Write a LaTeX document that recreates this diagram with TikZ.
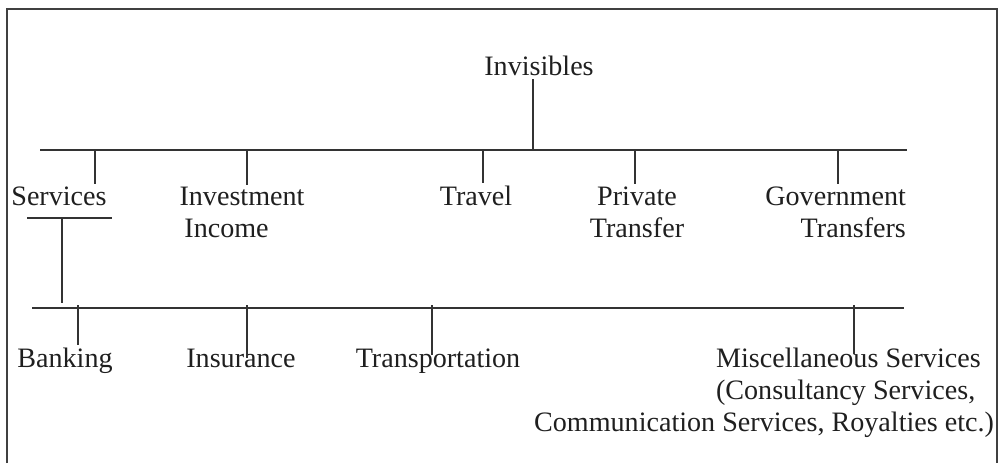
\documentclass[tikz,border=0pt]{standalone}
\usepackage{fontspec}
\setmainfont{Liberation Serif}
\usetikzlibrary{positioning, calc}
\tikzstyle{lbl}=[inner sep=1pt, anchor=base, text=black!88]
\tikzstyle{link}=[line width=0.8pt, color=black!80]

\begin{document}
\begin{tikzpicture}[x=0.02cm, y=-0.02cm, font=\fontsize{16}{18.2}\selectfont]
    \useasboundingbox (0, 0) rectangle (1000, 463) ;
    % frame
    \draw[line width=1.1pt, color=black!75] (7, 463) -- (7, 9) -- (997, 9) -- (997, 463) ;
    % top level
    \node[lbl] (inv) at (539, 75) {Invisibles} ;
    \coordinate (barL) at (40, 150) ;
    \coordinate (barR) at (907, 150) ;
    \coordinate (barI) at (533, 150) ;
    \draw[link] (barL) -- (barR) ;
    \draw[link] ($(barI |- inv.south) + (0, 2)$) -- (barI) ;
    % first level (two-line nodes sit on their last baseline)
    \node[lbl] (srv) at (59, 205) {Services} ;
    \node[lbl, align=center] (inc) at (242, 237) {Investment\\\hspace*{-1.1em}Income} ;
    \node[lbl] (trv) at (476, 205) {Travel} ;
    \node[lbl, align=center] (pvt) at (637, 237) {Private\\Transfer} ;
    \node[lbl, align=right, anchor=base east] (gov) at (908, 237) {Government\\Transfers} ;
    \coordinate (dSrv) at (95, 150) ;
    \coordinate (dInc) at (247, 150) ;
    \coordinate (dTrv) at (483, 150) ;
    \coordinate (dPvt) at (635, 150) ;
    \coordinate (dGov) at (838, 150) ;
    \foreach \d/\n in {dSrv/srv, dInc/inc, dTrv/trv, dPvt/pvt, dGov/gov}
        \draw[link] (\d) -- (\d |- \n.north) ;
    % services branch
    \coordinate (ulL) at (27, 218) ;
    \coordinate (ulR) at (112, 218) ;
    \coordinate (ulM) at (62, 218) ;
    \draw[link] (ulL) -- (ulR) ;
    \coordinate (barsL) at (32, 308) ;
    \coordinate (barsR) at (904, 308) ;
    \draw[link, line width=0.6pt] (barsL) -- (barsR) ;
    \draw[link] (ulM) -- ($(ulM |- barsL) + (0, -5)$) ;
    % second level
    \node[lbl] (bnk) at (65, 367) {Banking} ;
    \node[lbl] (ins) at (241, 367) {Insurance} ;
    \node[lbl] (trp) at (438, 367) {Transportation} ;
    \node[lbl, align=left, anchor=base west] (misc) at (532, 431)
        {\hspace*{3.64cm}Miscellaneous Services\\\hspace*{3.64cm}(Consultancy Services,\\Communication Services, Royalties etc.)} ;
    \coordinate (dBnk) at (78, 305) ;
    \coordinate (dIns) at (247, 305) ;
    \coordinate (dTrp) at (432, 305) ;
    \coordinate (dMsc) at (854, 305) ;
    \draw[link] (dBnk) -- (dBnk |- bnk.north) ;
    \draw[link] (dIns) -- ($(dIns |- ins.base) + (0, -9)$) ;
    \draw[link] (dTrp) -- ($(dTrp |- trp.base) + (0, -12)$) ;
    \draw[link] (dMsc) -- ($(dMsc |- misc.north) + (0, 9)$) ;
\end{tikzpicture}
\end{document}
